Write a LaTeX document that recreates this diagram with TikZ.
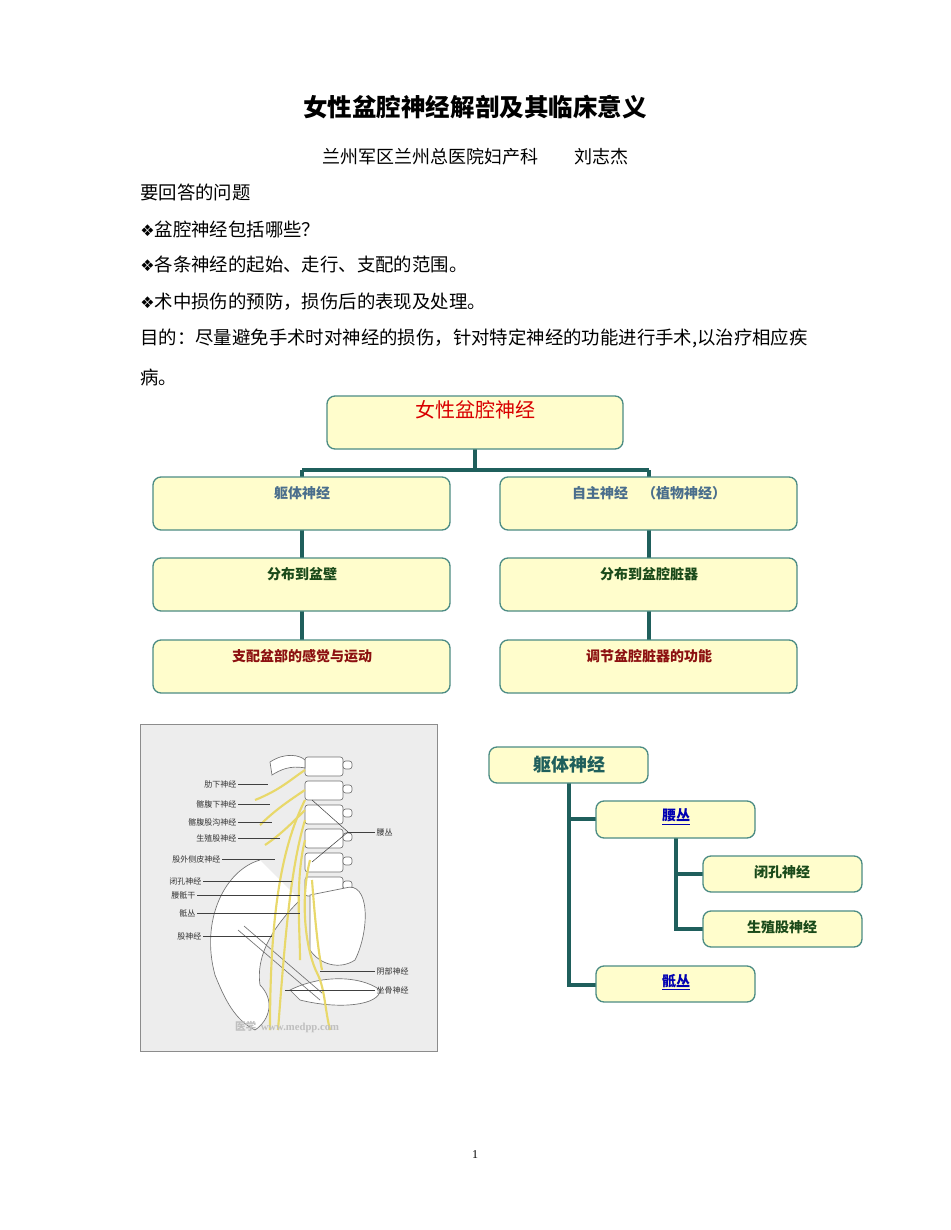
\documentclass[tikz,border=0pt]{standalone}
\usepackage{fontspec}
\setmainfont{Liberation Serif}
\newfontfamily\cjk{Noto Sans CJK SC}
\newfontfamily\djfont{DejaVu Sans}
\begin{document}
\begin{tikzpicture}[x=0.75pt,y=-0.75pt,
  box/.style={draw=boxline,line width=1pt,fill=boxfill,rounded corners=6pt},
  conn/.style={draw=connc,line width=2.6pt},
  lab/.style={font=\cjk\fontsize{6}{7}\selectfont,text=black!80,inner sep=1pt},
  body/.style={anchor=west,font=\cjk\fontsize{13.8}{15}\selectfont,inner sep=0pt}]
\definecolor{boxline}{HTML}{4C8C84}
\definecolor{boxfill}{HTML}{FFFDCC}
\definecolor{connc}{HTML}{1F5F5C}
\definecolor{lv2}{HTML}{4A6E8C}
\definecolor{lv3}{HTML}{1A4A1A}
\definecolor{lv4}{HTML}{8C1010}
\definecolor{nerve}{HTML}{E8D86A}
\useasboundingbox (0,0) rectangle (950,1230);
\fill[white] (0,0) rectangle (950,1230);
% header
\node (title) at (475,107) {\cjk\bfseries\fontsize{18.4}{21}\selectfont 女性盆腔神经解剖及其临床意义};
\node (sub) at (475,157) {\cjk\fontsize{13.5}{15}\selectfont 兰州军区兰州总医院妇产科\hspace{2em}刘志杰};
\node[body] (t1) at (140,192) {要回答的问题};
\node[body] (t2) at (140,229) {{\djfont\fontsize{12}{13}\selectfont ❖}盆腔神经包括哪些？};
\node[body] (t3) at (140,265) {{\djfont\fontsize{12}{13}\selectfont ❖}各条神经的起始、走行、支配的范围。};
\node[body] (t4) at (140,302) {{\djfont\fontsize{12}{13}\selectfont ❖}术中损伤的预防，损伤后的表现及处理。};
\node[body] (t5) at (140,338) {目的：尽量避免手术时对神经的损伤，针对特定神经的功能进行手术,以治疗相应疾};
\node[body] (t6) at (140,377) {病。};
% chart 1
\coordinate (j1) at (475,470);
\coordinate (jl) at (302,470);
\coordinate (jr) at (649,470);
\draw[conn] (475,449) -- (j1);
\draw[conn] (jl) -- (jr);
\draw[conn] (jl) -- (302,477);
\draw[conn] (jr) -- (649,477);
\draw[conn] (302,530) -- (302,558) (302,611) -- (302,640);
\draw[conn] (649,530) -- (649,558) (649,611) -- (649,640);
\draw[box] (327,396) rectangle (623,449);
\node[text=red!85!black,font=\cjk\fontsize{15}{17}\selectfont] (top) at (475,410) {女性盆腔神经};
\foreach \x/\n in {153/L,500/R}{
  \draw[box] (\x,477) rectangle ++(297,53);
  \draw[box] (\x,558) rectangle ++(297,53);
  \draw[box] (\x,640) rectangle ++(297,53);
}
\tikzset{ct/.style={font=\cjk\bfseries\fontsize{10.5}{12}\selectfont}}
\node[ct,text=lv2] (a2) at (302,493) {躯体神经};
\node[ct,text=lv2] (b2) at (649,493) {自主神经\hspace{1em}（植物神经）};
\node[ct,text=lv3] (a3) at (302,574) {分布到盆壁};
\node[ct,text=lv3] (b3) at (649,574) {分布到盆腔脏器};
\node[ct,text=lv4] (a4) at (302,656) {支配盆部的感觉与运动};
\node[ct,text=lv4] (b4) at (649,656) {调节盆腔脏器的功能};
% chart 2
\draw[conn] (569,783) -- (569,985) -- (596,985);
\draw[conn] (569,819) -- (596,819);
\draw[conn] (676,838) -- (676,929) -- (703,929);
\draw[conn] (676,874) -- (703,874);
\draw[box] (489,747) rectangle (648,783);
\draw[box] (596,801) rectangle (755,838);
\draw[box] (703,856) rectangle (862,892);
\draw[box] (703,911) rectangle (862,947);
\draw[box] (596,966) rectangle (755,1002);
\node[font=\cjk\bfseries\fontsize{13.5}{15}\selectfont,text=connc] (q) at (569,765) {躯体神经};
\node[ct,text=blue!70!black] (yc) at (676,817) {\underline{腰丛}};
\node[ct,text=lv3] (bk) at (782,872) {闭孔神经};
\node[ct,text=lv3] (sz) at (782,927) {生殖股神经};
\node[ct,text=blue!70!black] (dc) at (676,982) {\underline{骶丛}};
% anatomy picture
\draw[fill=black!7,draw=black!45] (140,724) rectangle (437,1051);
\begin{scope}[draw=black!55,line width=0.5pt,fill=white]
\foreach \y in {757,781,805,829,853,877}{
  \draw[fill=white,rounded corners=2pt] (305,\y) rectangle (343,\y+19);
  \draw[fill=white,rounded corners=2pt] (343,\y+4) rectangle (352,\y+12);
}
\draw[fill=white] (270,762) .. controls (285,752) and (300,755) .. (305,760) -- (305,768) .. controls (290,765) and (280,770) .. (272,775) -- cycle;
\draw[fill=white] (345,888) .. controls (370,880) and (370,930) .. (355,960) .. controls (340,970) and (320,965) .. (310,950) -- (310,895) -- cycle;
\draw[fill=white] (260,860) .. controls (225,870) and (200,920) .. (215,975) .. controls (225,1000) and (235,1020) .. (255,1030) .. controls (270,1020) and (275,1000) .. (260,985) .. controls (255,950) and (280,920) .. (300,900);
\draw[fill=white] (290,990) .. controls (320,975) and (360,975) .. (380,990) .. controls (380,1005) and (340,1010) .. (300,1000) -- cycle;
\draw (238,930) -- (320,1000);
\draw (244,926) -- (322,993);
\end{scope}
\begin{scope}[draw=nerve,line width=1.6pt]
\draw (305,770) .. controls (290,780) and (280,790) .. (255,800);
\draw (305,790) .. controls (290,800) and (275,810) .. (260,825);
\draw (305,810) .. controls (290,825) and (280,835) .. (265,845);
\draw (305,800) .. controls (280,850) and (270,920) .. (270,1030);
\draw (305,820) .. controls (290,870) and (285,940) .. (278,1030);
\draw (305,840) .. controls (295,880) and (300,930) .. (300,960);
\draw (310,860) .. controls (300,900) and (305,950) .. (318,975) .. controls (325,990) and (325,1010) .. (330,1030);
\draw (312,880) .. controls (315,920) and (318,950) .. (322,970);
\end{scope}
\tikzset{ll/.style={draw=black!75,line width=0.4pt}}
\foreach \nm/\x/\y/\ex in {肋下神经/238/784/268, 髂腹下神经/238/804/270, 髂腹股沟神经/238/822/272, 生殖股神经/238/838/280, 股外侧皮神经/222/859/275, 闭孔神经/203/881/292, 腰骶干/197/895/300, 骶丛/197/913/300, 股神经/203/936/272}{
  \node[lab,anchor=east] (n\x\y) at (\x,\y) {\nm};
  \draw[ll] (n\x\y.east) -- (\ex,\y);
}
\node[lab,anchor=west] (yc2) at (375,832) {腰丛};
\draw[ll] (yc2.west) -- (348,832);
\draw[ll] (348,832) -- (312,800) (348,832) -- (312,862);
\node[lab,anchor=west] (yb) at (375,971) {阴部神经};
\draw[ll] (yb.west) -- (320,971);
\node[lab,anchor=west] (zg) at (375,990) {坐骨神经};
\draw[ll] (zg.west) -- (285,990);
\node[text=black!25,font=\bfseries\fontsize{8}{9}\selectfont] (wm) at (287,1027) {{\cjk 医学}\, www.medpp.com};
% page number
\node[font=\fontsize{9}{10}\selectfont] (pg) at (475,1155) {1};
\end{tikzpicture}
\end{document}
